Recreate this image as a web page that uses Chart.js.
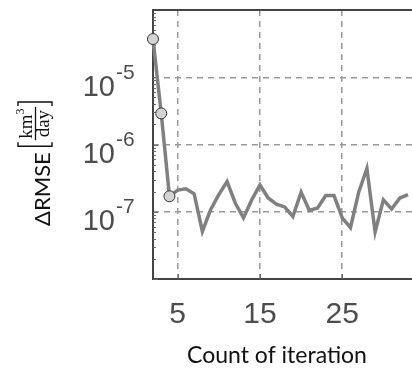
<!DOCTYPE html>
<html>
<head>
<meta charset="utf-8">
<script src="https://cdn.jsdelivr.net/npm/chart.js@4"></script>
<style>
  html, body { margin: 0; padding: 0; overflow: hidden; background: #fff; }
  #wrap { position: relative; width: 431px; height: 371px; }
</style>
</head>
<body>
<div id="wrap"><canvas id="chart"></canvas></div>
<script>
// values
const iterations = [2, 3, 4, 5, 6, 7, 8, 9, 10, 11, 12, 13, 14, 15, 16, 17,
                    18, 19, 20, 21, 22, 23, 24, 25, 26, 27, 28, 29, 30, 31, 32, 33];
const deltaRmse = [3.7e-5, 2.9e-6, 1.7e-7, 2.1e-7, 2.2e-7, 1.85e-7, 5.1e-8, 1.07e-7,
                   1.8e-7, 2.8e-7, 1.35e-7, 8.1e-8, 1.5e-7, 2.5e-7, 1.6e-7, 1.3e-7,
                   1.18e-7, 8.5e-8, 1.95e-7, 1.05e-7, 1.14e-7, 1.74e-7, 1.74e-7, 8.1e-8,
                   5.8e-8, 1.95e-7, 4.4e-7, 5e-8, 1.5e-7, 1.1e-7, 1.6e-7, 1.8e-7];
const markedPoints = 3; // first iterations drawn with a circle
const xTicks = [5, 15, 25];
const yTicks = [1e-5, 1e-6, 1e-7];
const yTickExp = ['-5', '-6', '-7'];
const xTitle = 'Count of iteration';
const yTitle = '\u0394RMSE';

const axisColor = '#444';
const gridColor = '#999';
const tickColor = '#4d4d4d';

// box, minor ticks, y tick labels and both titles
const axesPlugin = {
  id: 'axesPlugin',
  beforeDatasetsDraw(chart) {
    const { ctx, chartArea: a, scales: { x, y } } = chart;
    ctx.save();
    ctx.strokeStyle = axisColor;
    ctx.lineWidth = 2;
    ctx.beginPath();
    ctx.moveTo(a.right + 5, a.top);
    ctx.lineTo(a.left, a.top);
    ctx.lineTo(a.left, a.bottom);
    ctx.lineTo(a.right + 5, a.bottom);
    ctx.stroke();
    // inward ticks
    ctx.lineWidth = 1;
    ctx.strokeStyle = '#666';
    ctx.beginPath();
    for (let e = -8; e < -4; e++) {
      for (let m = 1; m < 10; m++) {
        const py = Math.round(y.getPixelForValue(m * Math.pow(10, e))) + 0.5;
        const len = m === 1 ? 5 : 3;
        ctx.moveTo(a.left, py);
        ctx.lineTo(a.left + len, py);
      }
    }
    xTicks.forEach(v => {
      const px = Math.round(x.getPixelForValue(v)) + 0.5;
      ctx.moveTo(px, a.bottom);
      ctx.lineTo(px, a.bottom - 5);
    });
    ctx.stroke();
    ctx.restore();
  },
  afterDraw(chart) {
    const { ctx, scales: { y } } = chart;
    ctx.save();
    ctx.fillStyle = tickColor;
    ctx.textBaseline = 'alphabetic';
    yTicks.forEach((v, i) => {
      const py = y.getPixelForValue(v);
      ctx.textAlign = 'left';
      ctx.font = '21px "Liberation Sans"';
      ctx.fillText(yTickExp[i], 116, py + 1.5);
      ctx.textAlign = 'right';
      ctx.font = '29px "Liberation Sans"';
      ctx.fillText('10', 115, py + 18.5);
    });

    // x title
    ctx.fillStyle = '#111';
    ctx.textAlign = 'center';
    ctx.font = '23px Lato';
    ctx.fillText(xTitle, 277, 363);

    // rotated y title: ΔRMSE [km³/day]
    ctx.translate(50, 226);
    ctx.rotate(-Math.PI / 2);
    ctx.strokeStyle = '#111';
    ctx.textAlign = 'left';
    ctx.font = '22px Lato';
    ctx.fillText(yTitle, 0, 0);
    let u = ctx.measureText(yTitle).width + 6;
    const bracket = (x0, dir) => {
      ctx.lineWidth = 1.4;
      ctx.beginPath();
      ctx.moveTo(x0 + dir * 4, -32);
      ctx.lineTo(x0, -32);
      ctx.lineTo(x0, 2);
      ctx.lineTo(x0 + dir * 4, 2);
      ctx.stroke();
    };
    bracket(u, 1);
    u += 6;
    ctx.font = '19px "Liberation Serif"';
    const kmW = ctx.measureText('km').width;
    ctx.font = '12px "Liberation Serif"';
    const supW = ctx.measureText('3').width;
    ctx.font = '19px "Liberation Serif"';
    const dayW = ctx.measureText('day').width;
    const fw = Math.max(kmW + supW, dayW) + 3;
    const kmX = u + (fw - kmW - supW) / 2;
    ctx.fillText('km', kmX, -18);
    ctx.font = '12px "Liberation Serif"';
    ctx.fillText('3', kmX + kmW, -26);
    ctx.font = '19px "Liberation Serif"';
    ctx.fillText('day', u + (fw - dayW) / 2, -1.5);
    ctx.lineWidth = 1.3;
    ctx.beginPath();
    ctx.moveTo(u, -14.5);
    ctx.lineTo(u + fw, -14.5);
    ctx.stroke();
    bracket(u + fw + 5, -1);
    ctx.restore();
  }
};

new Chart(document.getElementById('chart'), {
  type: 'line',
  data: {
    datasets: [{
      data: iterations.map((it, i) => ({ x: it, y: deltaRmse[i] })),
      borderColor: '#808080',
      borderWidth: 3.5,
      tension: 0,
      clip: false,
      pointRadius: c => (c.dataIndex < markedPoints ? 5.5 : 0),
      pointBackgroundColor: '#d3d3d3',
      pointBorderColor: '#333',
      pointBorderWidth: 1
    }]
  },
  options: {
    responsive: true,
    maintainAspectRatio: false,
    animation: false,
    events: [],
    layout: { padding: { top: 10, left: 0, right: 0, bottom: 0 } },
    plugins: { legend: { display: false }, tooltip: { enabled: false } },
    scales: {
      x: {
        type: 'linear',
        min: 2,
        max: 35,
        afterBuildTicks: s => { s.ticks = xTicks.map(v => ({ value: v })); },
        afterFit: s => { s.height = 92; },
        border: { display: false, dash: [6, 5] },
        grid: { color: gridColor, lineWidth: 1.5, drawTicks: false },
        ticks: {
          autoSkip: false,
          maxRotation: 0,
          padding: 18,
          color: tickColor,
          font: { family: 'Liberation Sans', size: 30 }
        }
      },
      y: {
        type: 'logarithmic',
        min: 1e-8,
        max: 1e-4,
        afterBuildTicks: s => { s.ticks = yTicks.map(v => ({ value: v })); },
        afterFit: s => { s.width = 153; },
        border: { display: false, dash: [6, 5] },
        grid: { color: gridColor, lineWidth: 1.5, drawTicks: false },
        ticks: { display: false }
      }
    }
  },
  plugins: [axesPlugin]
});
</script>
</body>
</html>
